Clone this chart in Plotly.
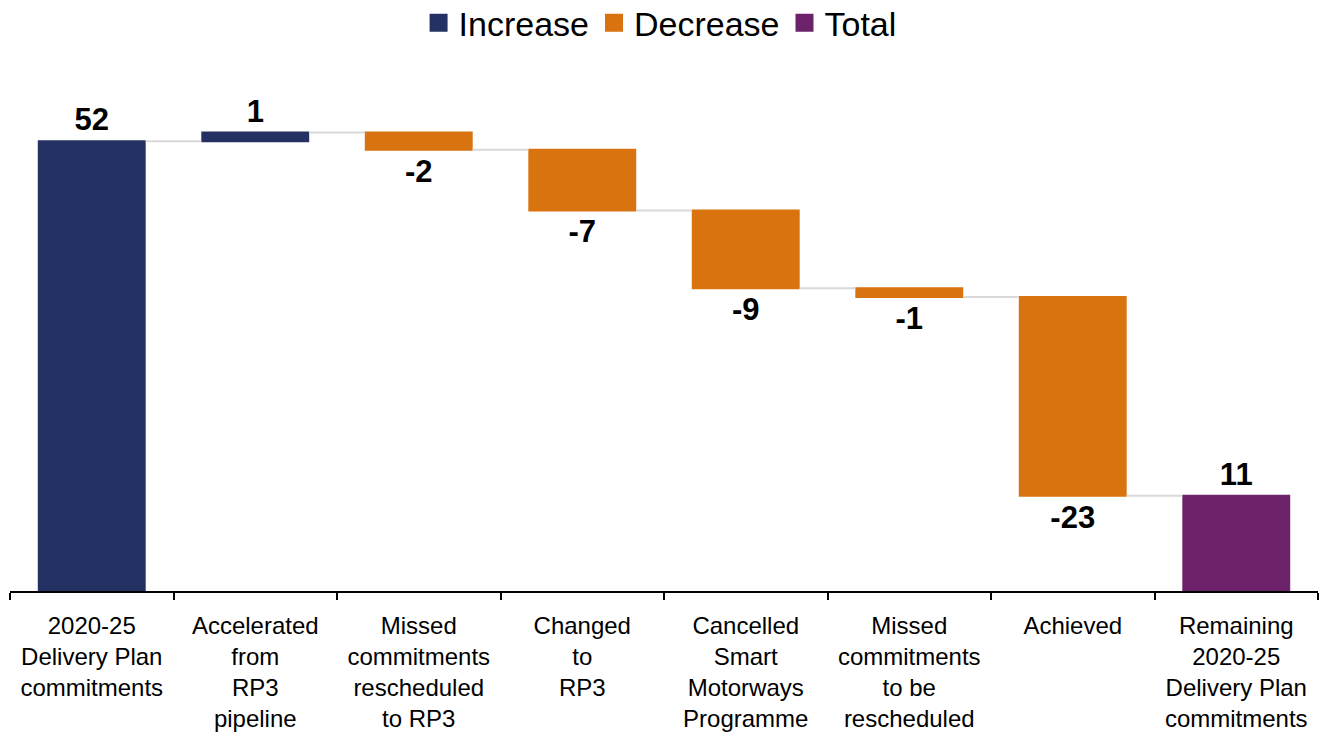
import plotly.graph_objects as go

categories = [
    "2020-25<br>Delivery Plan<br>commitments",
    "Accelerated<br>from<br>RP3<br>pipeline",
    "Missed<br>commitments<br>rescheduled<br>to RP3",
    "Changed<br>to<br>RP3",
    "Cancelled<br>Smart<br>Motorways<br>Programme",
    "Missed<br>commitments<br>to be<br>rescheduled",
    "Achieved",
    "Remaining<br>2020-25<br>Delivery Plan<br>commitments",
]
values = [52, 1, -2, -7, -9, -1, -23, 11]
measures = ["relative", "relative", "relative", "relative", "relative", "relative", "relative", "total"]
labels = ["52", "1", "-2", "-7", "-9", "-1", "-23", "11"]

NAVY = "#243263"
ORANGE = "#D9730F"
PURPLE = "#6C2369"
FONT = "Liberation Sans, Arial, sans-serif"

fig = go.Figure()
fig.add_trace(go.Waterfall(
    x=categories,
    y=values,
    measure=measures,
    text=labels,
    textposition="outside",
    textfont=dict(family=FONT, size=31, color="black", weight="bold"),
    increasing=dict(marker=dict(color=NAVY, line=dict(width=0))),
    decreasing=dict(marker=dict(color=ORANGE, line=dict(width=0))),
    totals=dict(marker=dict(color=PURPLE, line=dict(width=0))),
    connector=dict(line=dict(color="#d9d9d9", width=2)),
    width=0.66,
    showlegend=False,
    cliponaxis=False,
    hoverinfo="skip",
))

for name, col in [("Increase", NAVY), ("Decrease", ORANGE), ("Total", PURPLE)]:
    fig.add_trace(go.Scatter(
        x=[None], y=[None], mode="markers", name=name,
        marker=dict(symbol="square", size=16, color=col, line=dict(color=col, width=2)),
    ))

fig.update_layout(
    width=1327, height=734,
    margin=dict(l=10, r=9, t=72, b=143, autoexpand=False),
    paper_bgcolor="white", plot_bgcolor="white",
    font=dict(family=FONT, color="black"),
    legend=dict(
        orientation="h", x=0.497, xanchor="center", y=1.094, yanchor="middle",
        yref="paper", font=dict(size=34, family=FONT),
        itemclick=False, itemdoubleclick=False,
    ),
    xaxis=dict(
        type="category", range=[-0.5, 7.5], automargin=False,
        showline=True, linecolor="black", linewidth=2,
        ticks="outside", tickson="boundaries", ticklen=7, tickwidth=2, tickcolor="black",
        tickfont=dict(size=24, family=FONT, color="black"),
        ticklabelstandoff=12,
        showgrid=False, zeroline=False, tickangle=0,
    ),
    yaxis=dict(
        range=[0, 60], visible=False, showgrid=False, zeroline=False, automargin=False,
    ),
)

fig.write_html(
    "out.html",
    config={"displayModeBar": False},
    post_script="document.body.style.margin='0';",
)
